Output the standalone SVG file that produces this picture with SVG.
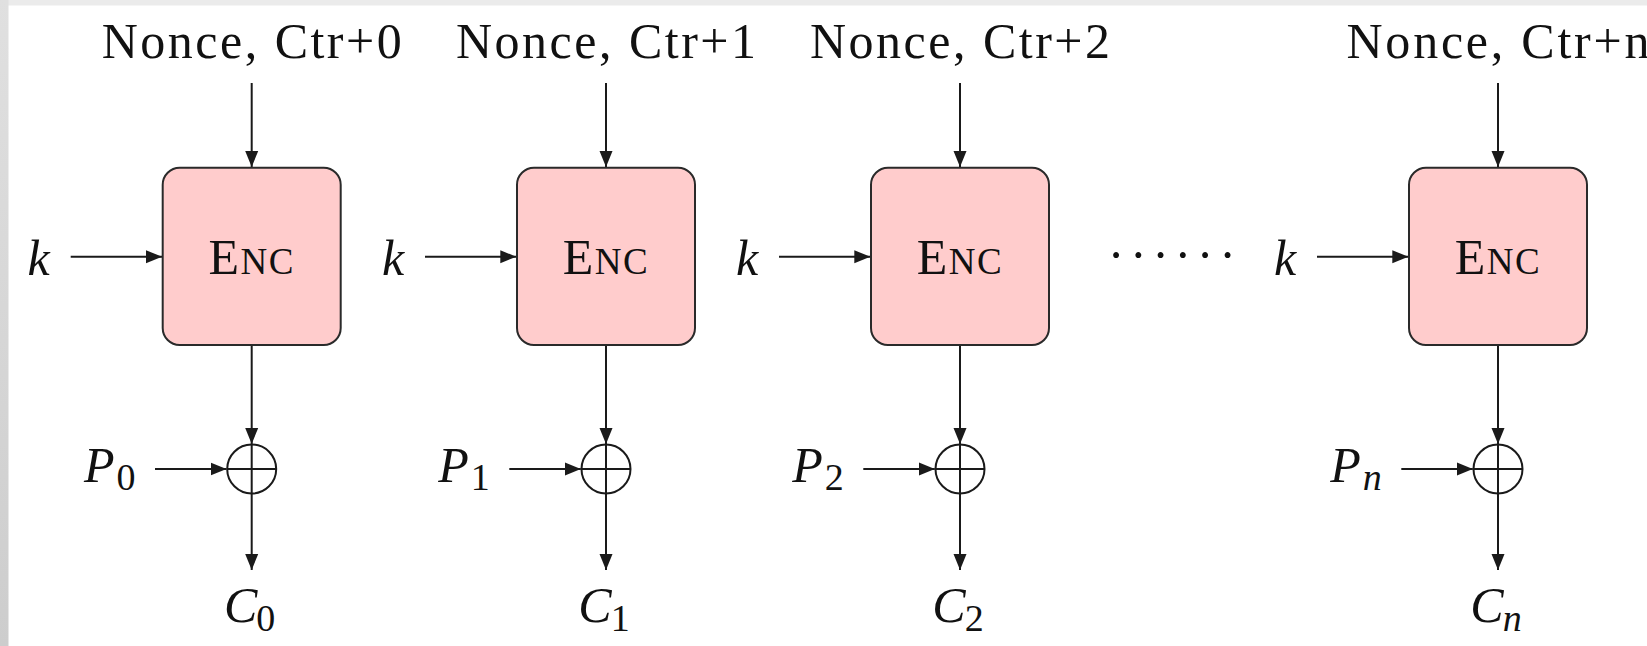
<svg xmlns="http://www.w3.org/2000/svg" width="1647" height="646" viewBox="0 0 1647 646">
<defs>
<linearGradient id="lg" x1="0" y1="0" x2="0" y2="1">
<stop offset="0" stop-color="#e0e0e0"/>
<stop offset="1" stop-color="#cdcdcd"/>
</linearGradient>
<marker id="ah" markerUnits="userSpaceOnUse" markerWidth="17" markerHeight="14" refX="16" refY="7" orient="auto">
<path d="M0,0.5 L16,7 L0,13.5 z" fill="#1a1a1a"/>
</marker>
<style>
.t{font-family:"Liberation Serif","Times New Roman",serif;fill:#111;}
.m{font-family:"Liberation Serif","Times New Roman",serif;font-style:italic;fill:#111;}
.s{font-family:"Liberation Serif","Times New Roman",serif;font-style:normal;}
.box{fill:#ffcccc;stroke:#2a2a2a;stroke-width:2;}
.ln{fill:none;stroke:#1a1a1a;stroke-width:2;}
.arr{fill:none;stroke:#1a1a1a;stroke-width:2;marker-end:url(#ah);}
.enc{letter-spacing:1.5px;}
</style>
</defs>
<rect x="0" y="0" width="1647" height="646" fill="#ffffff"/>
<rect x="0" y="0" width="1647" height="5.5" fill="#ebebeb"/>
<rect x="0" y="0" width="8.5" height="646" fill="url(#lg)"/>

<g id="connectors">
<path class="arr" d="M251.7,83 V167"/>
<path class="arr" d="M70.7,256.7 H162"/>
<path class="arr" d="M251.7,345 V444"/>
<path class="arr" d="M155,469 H226.5"/>
<path class="arr" d="M251.7,493.5 V570"/>

<path class="arr" d="M606,83 V167"/>
<path class="arr" d="M425,256.7 H516.3"/>
<path class="arr" d="M606,345 V444"/>
<path class="arr" d="M509.3,469 H580.8"/>
<path class="arr" d="M606,493.5 V570"/>

<path class="arr" d="M960,83 V167"/>
<path class="arr" d="M779,256.7 H870.3"/>
<path class="arr" d="M960,345 V444"/>
<path class="arr" d="M863.3,469 H934.8"/>
<path class="arr" d="M960,493.5 V570"/>

<path class="arr" d="M1498,83 V167"/>
<path class="arr" d="M1317,256.7 H1408.3"/>
<path class="arr" d="M1498,345 V444"/>
<path class="arr" d="M1401.3,469 H1472.8"/>
<path class="arr" d="M1498,493.5 V570"/>
</g>

<g id="enc0">
<rect class="box" x="162.7" y="167.7" width="178" height="177.3" rx="17"/>
<text class="t enc" x="251.7" y="273.5" text-anchor="middle" font-size="50">E<tspan font-size="37">NC</tspan></text>
</g>
<g id="enc1">
<rect class="box" x="517" y="167.7" width="178" height="177.3" rx="17"/>
<text class="t enc" x="606" y="273.5" text-anchor="middle" font-size="50">E<tspan font-size="37">NC</tspan></text>
</g>
<g id="enc2">
<rect class="box" x="871" y="167.7" width="178" height="177.3" rx="17"/>
<text class="t enc" x="960" y="273.5" text-anchor="middle" font-size="50">E<tspan font-size="37">NC</tspan></text>
</g>
<g id="encn">
<rect class="box" x="1409" y="167.7" width="178" height="177.3" rx="17"/>
<text class="t enc" x="1498" y="273.5" text-anchor="middle" font-size="50">E<tspan font-size="37">NC</tspan></text>
</g>

<g id="xor0">
<circle class="ln" cx="251.7" cy="469" r="24.5"/>
<path class="ln" d="M227.2,469 H276.2 M251.7,444.5 V493.5"/>
</g>
<g id="xor1">
<circle class="ln" cx="606" cy="469" r="24.5"/>
<path class="ln" d="M581.5,469 H630.5 M606,444.5 V493.5"/>
</g>
<g id="xor2">
<circle class="ln" cx="960" cy="469" r="24.5"/>
<path class="ln" d="M935.5,469 H984.5 M960,444.5 V493.5"/>
</g>
<g id="xorn">
<circle class="ln" cx="1498" cy="469" r="24.5"/>
<path class="ln" d="M1473.5,469 H1522.5 M1498,444.5 V493.5"/>
</g>

<g id="nonce0"><text class="t" x="251.7" y="58.3" text-anchor="middle" font-size="50" textLength="300" lengthAdjust="spacing">Nonce, Ctr+0</text></g>
<g id="nonce1"><text class="t" x="606" y="58.3" text-anchor="middle" font-size="50" textLength="300" lengthAdjust="spacing">Nonce, Ctr+1</text></g>
<g id="nonce2"><text class="t" x="960" y="58.3" text-anchor="middle" font-size="50" textLength="300" lengthAdjust="spacing">Nonce, Ctr+2</text></g>
<g id="noncen"><text class="t" x="1498" y="58.3" text-anchor="middle" font-size="50" textLength="303" lengthAdjust="spacing">Nonce, Ctr+n</text></g>

<g id="k0"><text class="m" x="38.5" y="275" text-anchor="middle" font-size="50">k</text></g>
<g id="k1"><text class="m" x="393" y="275" text-anchor="middle" font-size="50">k</text></g>
<g id="k2"><text class="m" x="747" y="275" text-anchor="middle" font-size="50">k</text></g>
<g id="kn"><text class="m" x="1285" y="275" text-anchor="middle" font-size="50">k</text></g>

<g id="dots"><text class="t" x="1116 1138.3 1160.6 1182.9 1205.2 1227.5" y="272" text-anchor="middle" font-size="50">······</text></g>

<g id="p0"><text class="m" x="84" y="482" font-size="50">P<tspan class="s" dx="2" dy="8" font-size="38">0</tspan></text></g>
<g id="p1"><text class="m" x="438.3" y="482" font-size="50">P<tspan class="s" dx="2" dy="8" font-size="38">1</tspan></text></g>
<g id="p2"><text class="m" x="792.3" y="482" font-size="50">P<tspan class="s" dx="2" dy="8" font-size="38">2</tspan></text></g>
<g id="pn"><text class="m" x="1330.3" y="482" font-size="50">P<tspan dx="2" dy="8" font-size="38">n</tspan></text></g>

<g id="c0"><text class="m" x="224" y="622" font-size="50">C<tspan class="s" dx="-1" dy="9" font-size="38">0</tspan></text></g>
<g id="c1"><text class="m" x="578.3" y="622" font-size="50">C<tspan class="s" dx="-1" dy="9" font-size="38">1</tspan></text></g>
<g id="c2"><text class="m" x="932.3" y="622" font-size="50">C<tspan class="s" dx="-1" dy="9" font-size="38">2</tspan></text></g>
<g id="cn"><text class="m" x="1470.3" y="622" font-size="50">C<tspan dx="-1" dy="9" font-size="38">n</tspan></text></g>
</svg>
